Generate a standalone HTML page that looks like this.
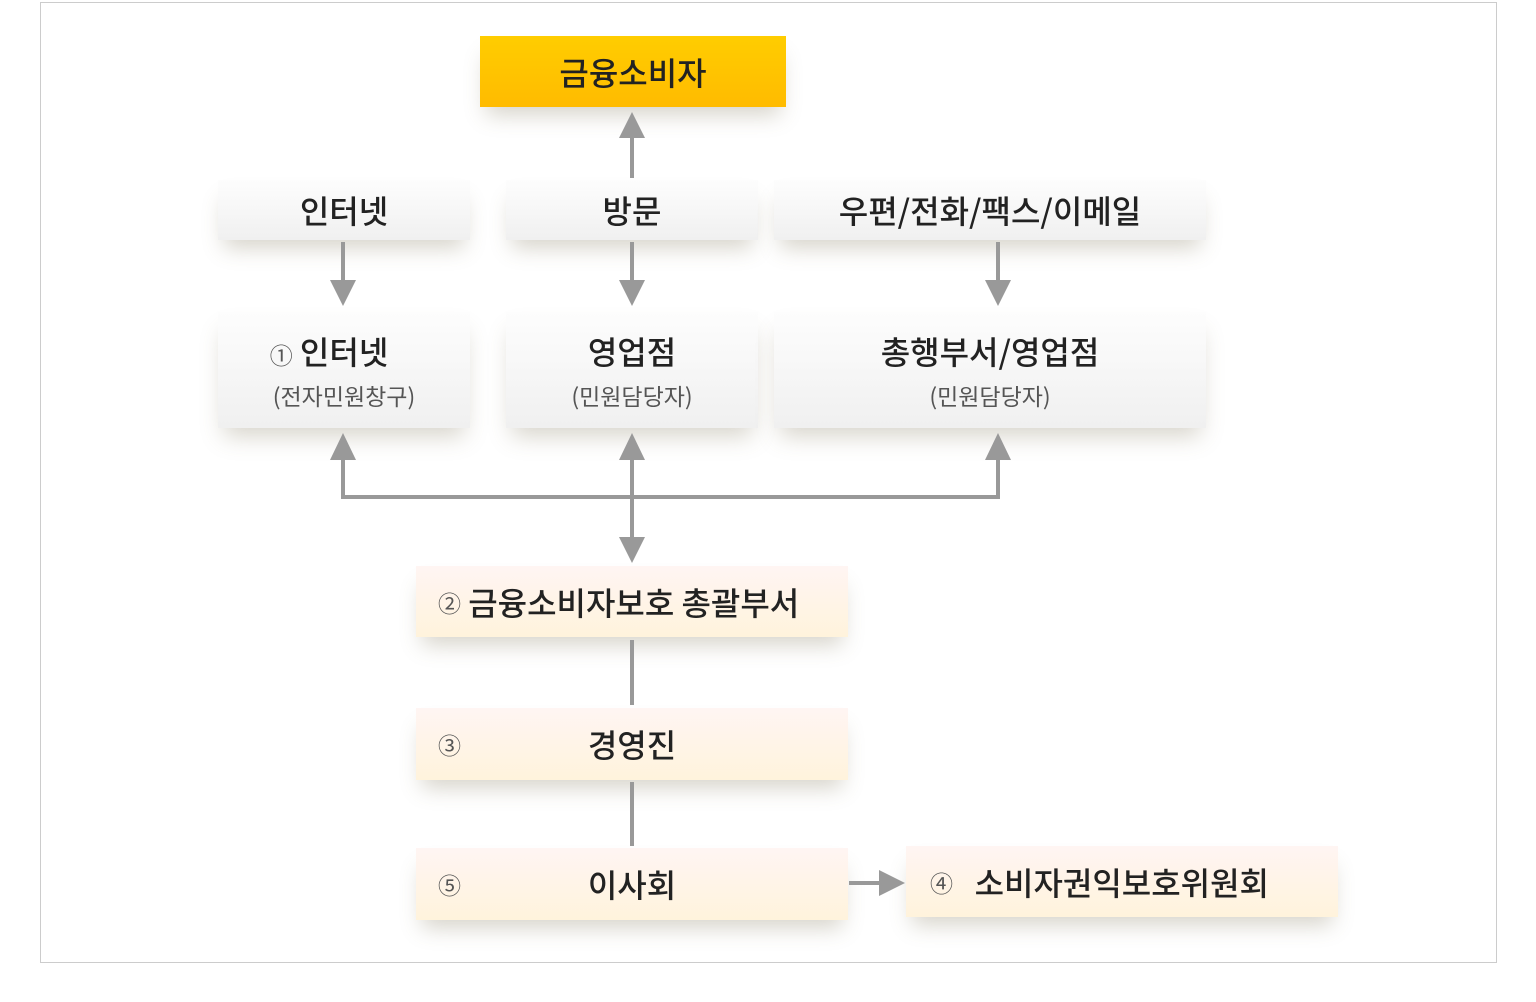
<!DOCTYPE html>
<html><head><meta charset="utf-8"><style>
body{margin:0;width:1536px;height:1002px;background:#fff;position:relative;font-family:"Noto Sans CJK KR","Liberation Sans",sans-serif;overflow:hidden}
.frame{position:absolute;left:40px;top:2px;width:1457px;height:961px;border:1px solid #ccc;box-sizing:border-box}
.b{position:absolute;box-sizing:border-box;display:flex;align-items:center;justify-content:center;color:#222;font-size:32px;font-weight:500}
.g{background:linear-gradient(#fdfdfd,#f0f0f0);box-shadow:0 14px 22px -6px rgba(110,100,70,.28)}
.y{background:linear-gradient(#fff5f3,#fff3dc);box-shadow:0 14px 22px -6px rgba(110,100,70,.28)}
.col{flex-direction:column}
.sub{font-size:23px;font-weight:normal;color:#555;margin-top:4px}
.n{font-size:23px;font-weight:normal;color:#555}
svg{position:absolute;left:0;top:0}
</style></head><body>
<div class="frame"></div>
<div class="b" style="left:480px;top:36px;width:306px;height:71px;background:linear-gradient(#ffcd00,#ffbb00);box-shadow:0 14px 22px -6px rgba(110,100,70,.28)">금융소비자</div>
<div class="b g" style="left:218px;top:180px;width:252px;height:60px">인터넷</div>
<div class="b g" style="left:506px;top:180px;width:252px;height:60px">방문</div>
<div class="b g" style="left:774px;top:180px;width:432px;height:60px">우편/전화/팩스/이메일</div>
<div class="b g col" style="left:218px;top:312px;width:252px;height:116px"><div style="margin-right:30px"><span class="n">①</span> 인터넷</div><div class="sub">(전자민원창구)</div></div>
<div class="b g col" style="left:506px;top:312px;width:252px;height:116px"><div>영업점</div><div class="sub">(민원담당자)</div></div>
<div class="b g col" style="left:774px;top:312px;width:432px;height:116px"><div>총행부서/영업점</div><div class="sub">(민원담당자)</div></div>
<div class="b y" style="left:416px;top:566px;width:432px;height:71px;justify-content:flex-start;padding-left:22px"><span class="n">②</span>&nbsp;금융소비자보호 총괄부서</div>
<div class="b y" style="left:416px;top:708px;width:432px;height:72px"><span class="n" style="position:absolute;left:22px">③</span>경영진</div>
<div class="b y" style="left:416px;top:848px;width:432px;height:72px"><span class="n" style="position:absolute;left:22px">⑤</span>이사회</div>
<div class="b y" style="left:906px;top:846px;width:432px;height:71px;justify-content:flex-start;padding-left:24px"><span class="n">④</span>&nbsp;&nbsp;&nbsp;소비자권익보호위원회</div>
<svg width="1536" height="1002">
<g stroke="#999" stroke-width="4" fill="none">
<line x1="632" y1="178" x2="632" y2="136"/>
<line x1="343" y1="242" x2="343" y2="282"/>
<line x1="632" y1="242" x2="632" y2="282"/>
<line x1="998" y1="242" x2="998" y2="282"/>
<polyline points="343,456 343,497 998,497 998,456"/>
<line x1="632" y1="456" x2="632" y2="540"/>
<line x1="632" y1="640" x2="632" y2="705"/>
<line x1="632" y1="782" x2="632" y2="846"/>
<line x1="849" y1="883" x2="882" y2="883"/>
</g>
<g fill="#999">
<polygon points="619,138 645,138 632,112"/>
<polygon points="330,280 356,280 343,306"/>
<polygon points="619,280 645,280 632,306"/>
<polygon points="985,280 1011,280 998,306"/>
<polygon points="330,460 356,460 343,433"/>
<polygon points="619,460 645,460 632,433"/>
<polygon points="985,460 1011,460 998,433"/>
<polygon points="619,537 645,537 632,563"/>
<polygon points="879,870 879,896 905,883"/>
</g>
</svg>
</body></html>
